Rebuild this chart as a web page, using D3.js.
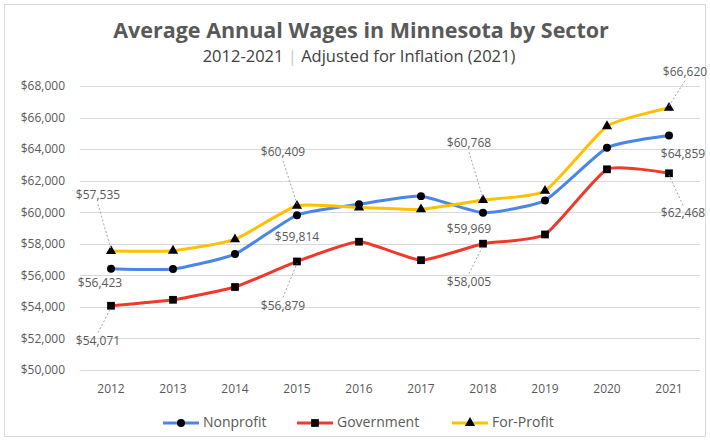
<!DOCTYPE html>
<html>
<head>
<meta charset="utf-8">
<script src="https://cdn.jsdelivr.net/npm/d3@7"></script>
<style>
  body { margin: 0; background: white; }
  svg { display: block; font-family: "Open Sans", sans-serif; }
</style>
</head>
<body>
<div id="chart"></div>
<script>
// chart data
const years = ["2012", "2013", "2014", "2015", "2016", "2017", "2018", "2019", "2020", "2021"];
const nonprofit = [56423, 56400, 57350, 59814, 60500, 61020, 59969, 60750, 64080, 64859];
const government = [54071, 54450, 55260, 56879, 58130, 56960, 58005, 58590, 62720, 62468];
const forProfit = [57535, 57560, 58280, 60409, 60300, 60180, 60768, 61350, 65450, 66620];
const yTicks = [50000, 52000, 54000, 56000, 58000, 60000, 62000, 64000, 66000, 68000];

const seriesNames = ["Nonprofit", "Government", "For-Profit"];

// where the data labels sit, relative to their point
const labelSpots = [
    { s: 2, i: 0, dx: -13, dy: -55, leader: true },
    { s: 0, i: 0, dx: -11, dy: 15, leader: false },
    { s: 1, i: 0, dx: -13, dy: 36, leader: true },
    { s: 2, i: 3, dx: -14, dy: -53, leader: true },
    { s: 0, i: 3, dx: 0, dy: 23, leader: false },
    { s: 1, i: 3, dx: -14, dy: 45, leader: true },
    { s: 2, i: 6, dx: -14, dy: -56, leader: true },
    { s: 0, i: 6, dx: -14, dy: 17, leader: false },
    { s: 1, i: 6, dx: -14, dy: 39, leader: true },
    { s: 2, i: 9, dx: 16, dy: -35, leader: true },
    { s: 0, i: 9, dx: 14, dy: 19, leader: false },
    { s: 1, i: 9, dx: 14, dy: 41, leader: true }
];

const W = 710, H = 441;
const textColor = '#595959';
const gridColor = '#d9d9d9';
const colors = ['#4a86e8', '#f0392b', '#ffc000'];
const symbols = [d3.symbolCircle, d3.symbolSquare, d3.symbolTriangle];
const symbolSizes = [50, 60, 45];

const allSeries = [nonprofit, government, forProfit];

const svg = d3.select("#chart").append("svg")
    .attr("width", W)
    .attr("height", H);

// chart area border
svg.append("rect")
    .attr("x", 4.5).attr("y", 4.5)
    .attr("width", W - 9).attr("height", H - 9)
    .attr("fill", "white")
    .attr("stroke", gridColor);

const x = d3.scaleBand().domain(years).range([80, 700]);
const y = d3.scaleLinear().domain([50000, 68000]).range([370, 86]);
const px = (i) => x(years[i]) + x.bandwidth() / 2;

// gridlines
svg.append("g")
    .selectAll("line").data(yTicks).enter().append("line")
    .attr("x1", 80).attr("x2", 700)
    .attr("y1", d => Math.round(y(d)) + 0.5)
    .attr("y2", d => Math.round(y(d)) + 0.5)
    .attr("stroke", gridColor)
    .attr("stroke-width", 1);

// y axis labels
const yAxis = svg.append("g")
    .attr("transform", "translate(80,0)")
    .call(d3.axisLeft(y).tickValues(yTicks).tickSize(0).tickPadding(15)
        .tickFormat(d => "$" + d3.format(",")(d)));
yAxis.select(".domain").remove();
yAxis.selectAll("text").style("fill", textColor).style("font-size", "12px")
    .style("font-family", "'Open Sans', sans-serif");

// x axis labels
const xAxis = svg.append("g")
    .attr("transform", "translate(0,384)")
    .call(d3.axisBottom(x).tickSize(0).tickPadding(0));
xAxis.select(".domain").remove();
xAxis.selectAll("text").style("fill", textColor).style("font-size", "12px")
    .style("font-family", "'Open Sans', sans-serif");

// title
svg.append("text")
    .attr("x", 361).attr("y", 38)
    .attr("text-anchor", "middle")
    .style("fill", textColor).style("font-weight", "bold").style("font-size", "21.5px")
    .text("Average Annual Wages in Minnesota by Sector");

const sub = svg.append("text")
    .attr("x", 359).attr("y", 62)
    .attr("text-anchor", "middle")
    .style("fill", "#404040").style("font-size", "16.5px");
sub.append("tspan").text("2012-2021 ");
sub.append("tspan").style("fill", "#c8c8c8").text("|");
sub.append("tspan").text(" Adjusted for Inflation (2021)");

// lines
const line = d3.line()
    .x((d, i) => px(i))
    .y(d => y(d))
    .curve(d3.curveCardinal.tension(0.5));

// draw order: government, nonprofit, for-profit on top
[1, 0, 2].forEach(s => {
    svg.append("path")
        .datum(allSeries[s])
        .attr("d", line)
        .attr("fill", "none")
        .attr("stroke", colors[s])
        .attr("stroke-width", 3)
        .attr("stroke-linejoin", "round");
});

[1, 0, 2].forEach(s => {
    svg.append("g").selectAll("path").data(allSeries[s]).enter().append("path")
        .attr("transform", (d, i) => `translate(${px(i)},${y(d)})`)
        .attr("d", d3.symbol().type(symbols[s]).size(symbolSizes[s]))
        .attr("fill", "black");
});

// data labels
const fmt = d => "$" + d3.format(",")(d);
const labels = svg.append("g");
labelSpots.forEach(l => {
    const v = allSeries[l.s][l.i];
    const cx = px(l.i), cy = y(v);
    const lx = cx + l.dx, ly = cy + l.dy;
    if (l.leader) {
        const ey = l.dy < 0 ? ly + 8 : ly - 9;
        labels.append("line")
            .attr("x1", lx).attr("y1", ey)
            .attr("x2", cx).attr("y2", cy + (l.dy < 0 ? -2 : 2))
            .attr("stroke", "#a6a6a6")
            .attr("stroke-dasharray", "2,2")
            .attr("stroke-width", 1);
    }
    labels.append("text")
        .attr("x", lx).attr("y", ly)
        .attr("text-anchor", "middle")
        .attr("dominant-baseline", "middle")
        .style("fill", textColor).style("font-size", "12px")
        .text(fmt(v));
});

// legend
const legendX = [163, 297, 452];
const legend = svg.append("g").attr("transform", "translate(0,423)");
seriesNames.forEach((name, s) => {
    const g = legend.append("g").attr("transform", `translate(${legendX[s]},0)`);
    g.append("line")
        .attr("x1", 0).attr("x2", 36)
        .attr("stroke", colors[s]).attr("stroke-width", 3);
    g.append("path")
        .attr("transform", "translate(18,0)")
        .attr("d", d3.symbol().type(symbols[s]).size(symbolSizes[s]))
        .attr("fill", "black");
    g.append("text")
        .attr("x", 40).attr("y", 0)
        .attr("dominant-baseline", "middle")
        .style("fill", textColor).style("font-size", "14px")
        .text(name);
});
</script>
</body>
</html>
